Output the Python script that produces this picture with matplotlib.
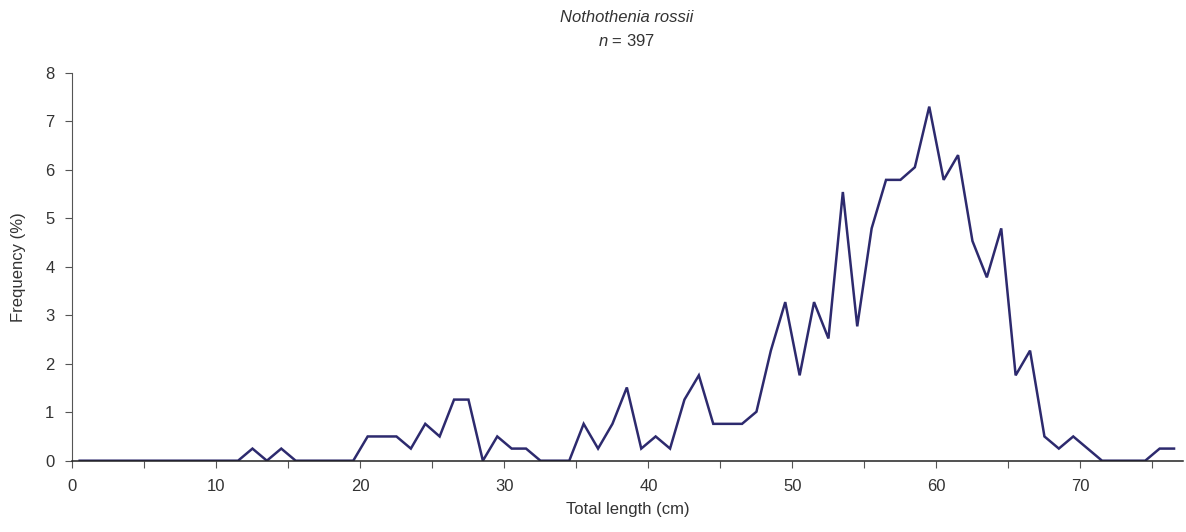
import matplotlib.pyplot as plt

plt.rcParams['font.family'] = ['Liberation Sans', 'DejaVu Sans']
plt.rcParams['mathtext.fontset'] = 'custom'
plt.rcParams['mathtext.it'] = 'Liberation Sans:italic'
plt.rcParams['mathtext.rm'] = 'Liberation Sans'

# 1 cm length classes, plotted at class midpoints
length_cm = [i + 0.5 for i in range(77)]

# frequency (%), n = 397
freq = [0, 0, 0, 0, 0, 0, 0, 0, 0, 0,
        0, 0, 0.25, 0, 0.25, 0, 0, 0, 0, 0,
        0.5, 0.5, 0.5, 0.25, 0.76, 0.5, 1.26, 1.26, 0, 0.5,
        0.25, 0.25, 0, 0, 0, 0.76, 0.25, 0.76, 1.51, 0.25,
        0.5, 0.25, 1.26, 1.76, 0.76, 0.76, 0.76, 1.01, 2.27, 3.27,
        1.76, 3.27, 2.52, 5.54, 2.77, 4.79, 5.79, 5.79, 6.05, 7.3,
        5.79, 6.3, 4.53, 3.78, 4.79, 1.76, 2.27, 0.5, 0.25, 0.5,
        0.25, 0, 0, 0, 0, 0.25, 0.25]

x_ticks = list(range(0, 80, 5))
x_labels = [str(t) if t % 10 == 0 else '' for t in x_ticks]

txt = '#333333'
axis_col = '#555555'

fig = plt.figure(figsize=(11.86, 5.32), dpi=100)
ax = fig.add_axes([0.0611, 0.134, 0.9361, 0.7294])

ax.plot(length_cm, freq, color='#2d2a6e', linewidth=1.8, solid_joinstyle='miter')

ax.set_xlim(0, 77.1)
ax.set_ylim(0, 8)
ax.set_xticks(x_ticks)
ax.set_xticklabels(x_labels)
ax.set_yticks(range(0, 9))

for s in ['top', 'right']:
    ax.spines[s].set_visible(False)
ax.spines['left'].set_color(axis_col)
ax.spines['bottom'].set_color('#222222')
ax.spines['bottom'].set_linewidth(1.1)

ax.tick_params(axis='x', direction='out', length=5, color=axis_col, labelsize=12, labelcolor=txt, pad=8)
ax.tick_params(axis='y', direction='out', length=5, color=axis_col, labelsize=12, labelcolor=txt, pad=8)

ax.set_xlabel('Total length (cm)', fontsize=12, color=txt, labelpad=6)
ax.set_ylabel('Frequency (%)', fontsize=12, color=txt, labelpad=14)

fig.text(0.528, 0.967, 'Nothothenia rossii', ha='center', va='center',
         fontsize=12, style='italic', color=txt)
fig.text(0.528, 0.922, r'$\it{n}$ = 397', ha='center', va='center',
         fontsize=12, color=txt)

fig.savefig('out.png', dpi=100)
